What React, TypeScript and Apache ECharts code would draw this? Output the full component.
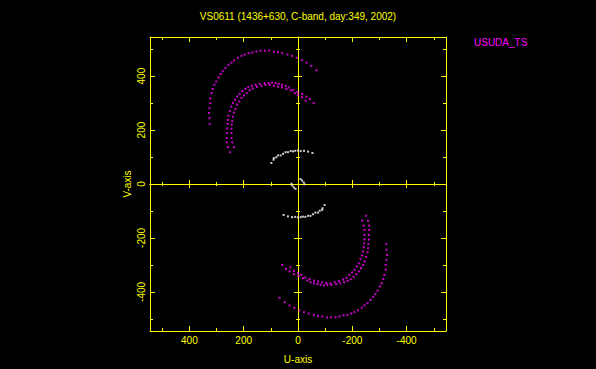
import React, { useEffect, useRef } from "react";
import * as echarts from "echarts";

const titleText = "VS0611 (1436+630, C-band, day:349, 2002)";
const stationName = "USUDA_TS";
const uAxisName = "U-axis";
const vAxisName = "V-axis";
const axisMin = -545;
const axisMax = 545;

// [u, v] samples read from the upper-left half; conjugate points are (-u, -v)
const outerTrack: [number, number][] = [
  [325, 223], [326, 244], [328, 263], [326, 281], [323, 300], [323, 318], [318, 337],
  [314, 352], [308, 368], [301, 380], [293, 395], [285, 408], [277, 418], [267, 430],
  [256, 442], [245, 450], [235, 458], [221, 468], [208, 475], [196, 480], [182, 485],
  [168, 487], [153, 491], [138, 494], [122, 494], [107, 495], [89, 491], [74, 489],
  [58, 485], [39, 480], [22, 475], [5, 468], [-14, 459], [-31, 450], [-49, 438], [-68, 422],
];

const innerTrackA: [number, number][] = [
  [251, 118], [258, 137], [262, 154], [262, 170], [261, 189], [261, 206], [259, 223],
  [258, 238], [256, 253], [251, 271], [246, 287], [240, 300], [232, 312], [224, 324],
  [215, 334], [205, 344], [194, 353], [183, 359], [170, 364], [156, 368], [141, 371],
  [123, 374], [108, 374], [96, 376], [83, 374], [71, 371], [59, 368], [46, 364],
  [34, 358], [18, 349], [2, 341], [-15, 334], [-31, 324], [-44, 315], [-58, 300],
];

const innerTrackB: [number, number][] = [
  [236, 136], [242, 154], [245, 170], [245, 189], [245, 205], [244, 220], [242, 234],
  [240, 250], [236, 265], [230, 279], [224, 294], [216, 306], [208, 319], [199, 328],
  [189, 337], [178, 348], [166, 354], [151, 360], [135, 364], [120, 368], [104, 367],
  [89, 364], [74, 361], [59, 358], [43, 352], [27, 347], [12, 337], [0, 331],
  [-15, 322], [-28, 309],
];

const whiteTrack: [number, number][] = [
  [98, 78], [90, 90], [89, 96], [80, 99], [74, 106], [64, 106], [55, 112], [46, 118],
  [37, 118], [27, 122], [18, 121], [10, 123], [0, 124], [-10, 122], [-22, 123],
  [-37, 120], [-53, 115],
];

const whiteCenter: [number, number][] = [
  [-9, 18], [-15, 13], [-21, 6], [-24, -1],
];

const conj = (pts: [number, number][]) => pts.map(([u, v]) => [-u, -v]);

const magentaPoints = [
  ...outerTrack, ...innerTrackA, ...innerTrackB,
  ...conj(outerTrack), ...conj(innerTrackA), ...conj(innerTrackB),
];
const whitePoints = [
  ...whiteTrack, ...whiteCenter, ...conj(whiteTrack), ...conj(whiteCenter),
];

const YELLOW = "#ffff00";
const MAGENTA = "#ff00ff";
const FONT = "Liberation Sans";

const labelFmt = (v: number) => (v % 200 === 0 ? String(v) : "");

function boxAxis(position: string, showLabel: boolean, isX: boolean, extra: any = {}) {
  return {
    type: "value",
    gridIndex: 0,
    position,
    min: axisMin,
    max: axisMax,
    splitNumber: 5,
    inverse: isX,
    axisLine: { show: true, onZero: false, lineStyle: { color: YELLOW, width: 1 } },
    axisTick: { show: true, inside: true, length: 5, lineStyle: { color: YELLOW, width: 1 } },
    minorTick: { show: true, splitNumber: 2, length: 3, lineStyle: { color: YELLOW, width: 1 } },
    splitLine: { show: false },
    minorSplitLine: { show: false },
    axisLabel: {
      show: showLabel,
      color: YELLOW,
      fontFamily: FONT,
      fontSize: 10,
      margin: 4,
      showMinLabel: false,
      showMaxLabel: false,
      formatter: labelFmt,
    },
    ...extra,
  };
}

function zeroAxis(position: string, isX: boolean) {
  return {
    type: "value",
    gridIndex: 1,
    position,
    min: axisMin,
    max: axisMax,
    splitNumber: 5,
    inverse: isX,
    axisLine: { show: true, onZero: true, lineStyle: { color: YELLOW, width: 1 } },
    axisTick: { show: true, inside: true, length: 4, lineStyle: { color: YELLOW, width: 1 } },
    minorTick: { show: true, splitNumber: 2, length: 2, lineStyle: { color: YELLOW, width: 1 } },
    splitLine: { show: false },
    minorSplitLine: { show: false },
    axisLabel: { show: false },
  };
}

export default function App() {
  const ref = useRef<HTMLDivElement>(null);
  useEffect(() => {
    if (!ref.current) return;
    const chart = echarts.init(ref.current, undefined, { renderer: "svg" });
    const gridBox = { left: 150, top: 37, width: 296, height: 294 };
    chart.setOption({
      animation: false,
      backgroundColor: "#000000",
      title: [
        {
          text: titleText,
          left: "center",
          top: 11,
          padding: 0,
          textStyle: { color: YELLOW, fontSize: 10, fontWeight: "normal", fontFamily: FONT },
        },
        {
          text: stationName,
          left: 474,
          top: 37,
          padding: 0,
          textStyle: { color: MAGENTA, fontSize: 10, fontWeight: "normal", fontFamily: FONT },
        },
      ],
      grid: [
        { ...gridBox, containLabel: false },
        { ...gridBox, containLabel: false },
      ],
      xAxis: [
        boxAxis("bottom", true, true, {
          name: uAxisName,
          nameLocation: "middle",
          nameGap: 23,
          nameTextStyle: { color: YELLOW, fontFamily: FONT, fontSize: 10 },
        }),
        boxAxis("top", false, true),
        zeroAxis("bottom", true),
        zeroAxis("top", true),
      ],
      yAxis: [
        boxAxis("left", true, false, {
          name: vAxisName,
          nameLocation: "middle",
          nameGap: 18,
          nameRotate: 90,
          nameTextStyle: { color: YELLOW, fontFamily: FONT, fontSize: 10 },
          axisLabel: {
            show: true,
            color: YELLOW,
            fontFamily: FONT,
            fontSize: 10,
            margin: 4,
            rotate: 90,
            showMinLabel: false,
            showMaxLabel: false,
            formatter: labelFmt,
          },
        }),
        boxAxis("right", false, false),
        zeroAxis("left", false),
        zeroAxis("right", false),
      ],
      series: [
        {
          type: "scatter",
          xAxisIndex: 0,
          yAxisIndex: 0,
          data: magentaPoints,
          symbol: "rect",
          symbolSize: 2,
          itemStyle: { color: MAGENTA },
          silent: true,
        },
        {
          type: "scatter",
          xAxisIndex: 0,
          yAxisIndex: 0,
          data: whitePoints,
          symbol: "rect",
          symbolSize: 2,
          itemStyle: { color: "#ffffff" },
          silent: true,
        },
      ],
    });
    return () => chart.dispose();
  }, []);
  return (
    <div
      ref={ref}
      style={{ position: "absolute", left: 0, top: 0, width: 596, height: 369, background: "#000" }}
    />
  );
}
